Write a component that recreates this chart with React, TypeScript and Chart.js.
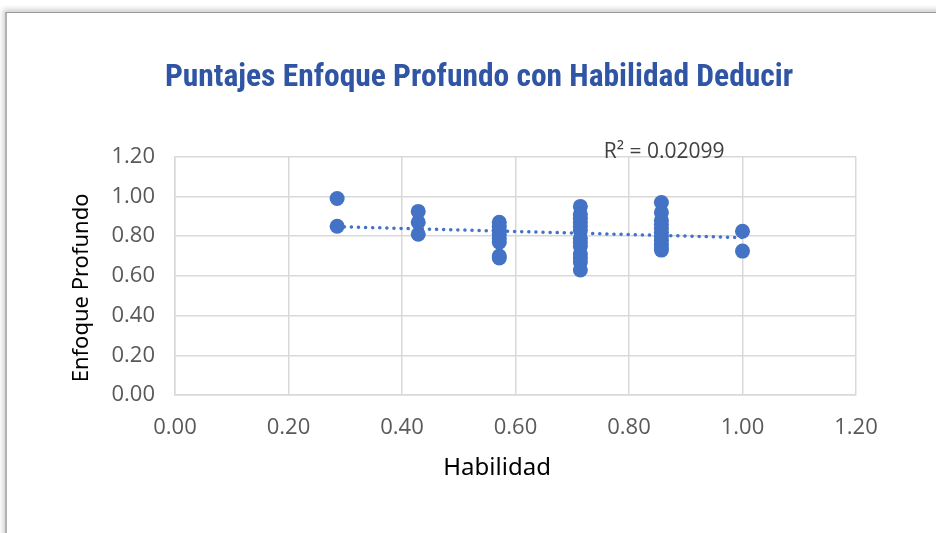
import React, { useEffect, useRef } from "react";
import { Chart, registerables } from "chart.js";

Chart.register(...registerables);

const chartTitle = "Puntajes Enfoque Profundo con Habilidad Deducir";
const xAxisTitle = "Habilidad";
const yAxisTitle = "Enfoque Profundo";
const r2Label = "R² = 0.02099";

const xLevels = [0.2857, 0.4286, 0.5714, 0.7143, 0.8571, 1.0];
const yAt0286 = [0.99, 0.85];
const yAt0429 = [0.925, 0.87, 0.81];
const yAt0571 = [0.87, 0.85, 0.83, 0.81, 0.79, 0.77, 0.70, 0.69];
const yAt0714 = [0.95, 0.91, 0.89, 0.87, 0.85, 0.83, 0.79, 0.77, 0.75, 0.71, 0.69, 0.67, 0.63];
const yAt0857 = [0.97, 0.92, 0.88, 0.86, 0.84, 0.82, 0.80, 0.78, 0.76, 0.74, 0.73];
const yAt1000 = [0.825, 0.725];
const yGroups = [yAt0286, yAt0429, yAt0571, yAt0714, yAt0857, yAt1000];

const trendX = [0.2857, 1.0];
const trendY = [0.848, 0.793];

const axisTicks = [0, 0.2, 0.4, 0.6, 0.8, 1.0, 1.2];

export default function App() {
  const ref = useRef<HTMLCanvasElement>(null);

  useEffect(() => {
    if (!ref.current) return;
    const points: { x: number; y: number }[] = [];
    yGroups.forEach((g, i) => g.forEach((y) => points.push({ x: xLevels[i], y })));
    const trend = trendX.map((x, i) => ({ x, y: trendY[i] }));

    const labelsPlugin = {
      id: "extraLabels",
      afterDraw(chart: any) {
        const ctx = chart.ctx;
        const xs = chart.scales.x;
        const ys = chart.scales.y;
        const ca = chart.chartArea;
        ctx.save();
        ctx.font = "21px 'Open Sans'";
        ctx.fillStyle = "#404040";
        ctx.textAlign = "center";
        ctx.textBaseline = "middle";
        ctx.fillText(r2Label, xs.getPixelForValue(0.862), ys.getPixelForValue(1.225));

        ctx.font = "24px 'Noto Sans'";
        ctx.fillStyle = "#000";
        ctx.fillText(xAxisTitle, ca.left + (ca.right - ca.left) * 0.473, ca.bottom + 73);

        ctx.font = "22px 'Noto Sans'";
        ctx.translate(82, (ca.top + ca.bottom) / 2 + 12);
        ctx.rotate(-Math.PI / 2);
        ctx.fillText(yAxisTitle, 0, 0);
        ctx.restore();
      },
    };

    const tickFont = { family: "'Open Sans'", size: 22 };

    const chart = new Chart(ref.current, {
      type: "scatter",
      data: {
        datasets: [
          {
            type: "scatter",
            data: points,
            backgroundColor: "#4472C4",
            borderWidth: 0,
            pointRadius: 7.5,
            pointHoverRadius: 7.5,
            order: 2,
          },
          {
            type: "line",
            data: trend,
            borderColor: "#4472C4",
            borderWidth: 3.5,
            borderDash: [0.1, 7],
            borderCapStyle: "round",
            pointRadius: 0,
            fill: false,
            order: 1,
          } as any,
        ],
      },
      options: {
        responsive: false,
        animation: false,
        layout: { padding: { top: 59, left: 102, right: 80, bottom: 47 } },
        plugins: {
          legend: { display: false },
          tooltip: { enabled: false },
          title: {
            display: true,
            text: chartTitle,
            color: "#2F55A4",
            font: { family: "'Liberation Sans Narrow', 'Roboto Condensed', 'Roboto'", size: 31.5, weight: "bold" },
            padding: { top: 0, bottom: 60 },
          },
        },
        scales: {
          x: {
            type: "linear",
            min: 0,
            max: 1.2,
            afterBuildTicks: (s: any) => { s.ticks = axisTicks.map((v) => ({ value: v })); },
            afterFit: (s: any) => { s.height = 91; },
            grid: { color: "#D9D9D9", lineWidth: 1.5, drawTicks: false },
            border: { color: "#D9D9D9", width: 1.5 },
            ticks: { color: "#595959", font: tickFont, padding: 20, callback: (v: any) => Number(v).toFixed(2), maxRotation: 0 },
            title: { display: false },
          },
          y: {
            type: "linear",
            min: 0,
            max: 1.2,
            afterBuildTicks: (s: any) => { s.ticks = axisTicks.map((v) => ({ value: v })); },
            afterFit: (s: any) => { s.width = 73; },
            grid: { color: "#D9D9D9", lineWidth: 1.5, drawTicks: false },
            border: { color: "#D9D9D9", width: 1.5 },
            ticks: { color: "#595959", font: tickFont, padding: 20, callback: (v: any) => Number(v).toFixed(2) },
            title: { display: false },
          },
        },
      },
      plugins: [labelsPlugin],
    } as any);
    return () => chart.destroy();
  }, []);

  return (
    <div style={{ position: "fixed", left: 0, top: 0, width: 936, height: 533, overflow: "hidden", background: "#fff" }}>
      <div
        style={{
          position: "absolute",
          left: 5,
          top: 12,
          width: 1000,
          height: 600,
          borderTop: "1px solid #9a9a9a",
          borderLeft: "2px solid #b0b0b0",
          boxShadow: "-2px -3px 5px rgba(0,0,0,0.18)",
          background: "#fff",
        }}
      />
      <canvas ref={ref} width={936} height={533} style={{ position: "absolute", left: 0, top: 0 }} />
    </div>
  );
}
